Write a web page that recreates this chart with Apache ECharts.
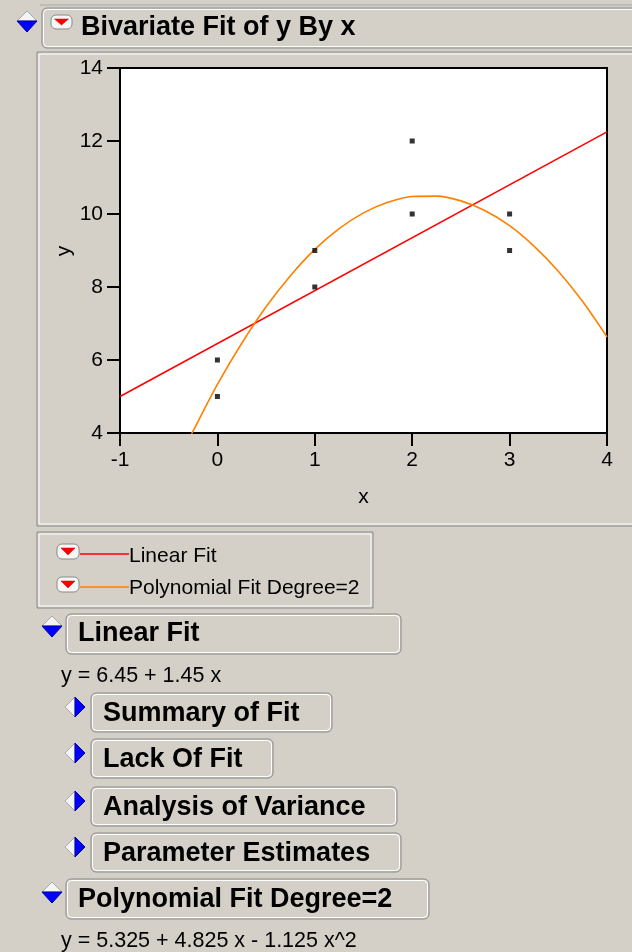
<!DOCTYPE html>
<html>
<head>
<meta charset="utf-8">
<script src="https://cdn.jsdelivr.net/npm/echarts@6/dist/echarts.min.js"></script>
<style>
html,body{margin:0;padding:0;background:#d4d0c8;}
#c{width:632px;height:952px;}
</style>
</head>
<body>
<div id="c"></div>
<script>
// ---- data ----
const xTicks = [-1, 0, 1, 2, 3, 4];
const yTicks = [4, 6, 8, 10, 12, 14];
const obsX = [0, 0, 1, 1, 2, 2, 3, 3];
const obsY = [5, 6, 8, 9, 10, 12, 9, 10];
const linFitX = [-1, 4];
const linFitY = [5.0, 12.25];
const polyFitX = [-0.3, -0.25, 0, 0.25, 0.5, 0.75, 1, 1.25, 1.5, 1.75, 2, 2.25, 2.5, 2.75, 3, 3.25, 3.5, 3.75, 4];
const polyFitY = [3.78, 4.05, 5.33, 6.46, 7.46, 8.31, 9.03, 9.60, 10.03, 10.32, 10.48, 10.49, 10.36, 10.09, 9.68, 9.12, 8.43, 7.60, 6.63];
const titleText = 'Bivariate Fit of y By x';
const xName = 'x';
const yName = 'y';
const legendLabels = ['Linear Fit', 'Polynomial Fit Degree=2'];
const linEquation = 'y = 6.45 + 1.45 x';
const polyEquation = 'y = 5.325 + 4.825 x - 1.125 x^2';
const subReports = ['Summary of Fit', 'Lack Of Fit', 'Analysis of Variance', 'Parameter Estimates'];

// ---- build ----
const BG = '#d4d0c8';
const FONT = '"Liberation Sans", Arial, sans-serif';
const chart = echarts.init(document.getElementById('c'), null, {renderer: 'canvas'});

function button(x, y, w, h) {
  return [
    {type: 'rect', shape: {x: x, y: y, width: w, height: h, r: 5}, style: {fill: BG, stroke: '#8a8a8a', lineWidth: 1}},
    {type: 'rect', shape: {x: x + 1.5, y: y + 1.5, width: w - 3, height: h - 3, r: 4}, style: {fill: 'none', stroke: '#ffffff', lineWidth: 1}}
  ];
}
function diamondDown(cx, cy) {
  return [
    {type: 'polygon', shape: {points: [[cx - 10, cy], [cx, cy - 10], [cx + 10, cy]]}, style: {fill: '#f4f4f4', stroke: '#a8a8a8', lineWidth: 1}},
    {type: 'polygon', shape: {points: [[cx - 10, cy], [cx + 10, cy], [cx, cy + 11]]}, style: {fill: '#0000ff', stroke: '#0000a0', lineWidth: 1}}
  ];
}
function diamondRight(cx, cy) {
  return [
    {type: 'polygon', shape: {points: [[cx, cy - 10], [cx - 10, cy], [cx, cy + 10]]}, style: {fill: '#f4f4f4', stroke: '#a8a8a8', lineWidth: 1}},
    {type: 'polygon', shape: {points: [[cx, cy - 10], [cx, cy + 10], [cx + 10, cy]]}, style: {fill: '#0000ff', stroke: '#0000a0', lineWidth: 1}}
  ];
}
function menuIcon(x, y, w, h) {
  const cx = x + w / 2;
  return [
    {type: 'rect', shape: {x: x, y: y, width: w, height: h, r: 5}, style: {fill: '#f6f6f6', stroke: '#8a8a8a', lineWidth: 1}},
    {type: 'polygon', shape: {points: [[cx - 7, y + 4], [cx + 7, y + 4], [cx, y + h - 4]]}, style: {fill: '#ff0000', stroke: '#c00000', lineWidth: 0.5}}
  ];
}
function txt(s, x, baseline, size, bold) {
  return {type: 'text', x: x, y: baseline - size * 0.36, z: 10,
    style: {text: s, font: (bold ? 'bold ' : '') + size + 'px ' + FONT, fill: '#000', align: 'left', verticalAlign: 'middle'}};
}

let g = [];
g.push({type: 'line', shape: {x1: 40, y1: 5, x2: 632, y2: 5}, style: {stroke: '#a8a8a8', lineWidth: 1}});
// title
g = g.concat(diamondDown(27, 21));
g = g.concat(button(42, 8, 600, 40));
g = g.concat(menuIcon(51, 15, 21, 14));
g.push(txt(titleText, 81, 37, 27, true));
// plot panel
g.push({type: 'rect', z: -10, shape: {x: 37, y: 52, width: 610, height: 474}, style: {fill: BG, stroke: '#8a8a8a', lineWidth: 1}});
g.push({type: 'rect', z: -10, shape: {x: 39, y: 54, width: 606, height: 470}, style: {fill: 'none', stroke: '#ffffff', lineWidth: 1}});
// y axis name (rotated)
g.push({type: 'text', x: 64, y: 251, rotation: Math.PI / 2, z: 10,
  style: {text: yName, font: '21px ' + FONT, fill: '#000', align: 'center', verticalAlign: 'middle'}});
// legend box
g.push({type: 'rect', shape: {x: 37, y: 532, width: 336, height: 76}, style: {fill: BG, stroke: '#8a8a8a', lineWidth: 1}});
g.push({type: 'rect', shape: {x: 39, y: 534, width: 332, height: 72}, style: {fill: 'none', stroke: '#ffffff', lineWidth: 1}});
g = g.concat(menuIcon(57, 544, 22, 15));
g.push({type: 'line', shape: {x1: 80, y1: 554, x2: 129, y2: 554}, style: {stroke: '#ff0000', lineWidth: 1.5}});
g.push(txt(legendLabels[0], 129, 564, 21, false));
g = g.concat(menuIcon(57, 577, 22, 15));
g.push({type: 'line', shape: {x1: 80, y1: 587, x2: 129, y2: 587}, style: {stroke: '#ff8000', lineWidth: 1.5}});
g.push(txt(legendLabels[1], 129, 596, 21, false));
// Linear Fit report
g = g.concat(diamondDown(52, 626));
g = g.concat(button(66, 614, 335, 40));
g.push(txt(legendLabels[0], 78, 643, 27, true));
g.push(txt(linEquation, 61, 684, 21.5, false));
const subY = [693, 739, 787, 833];
const subW = [241, 182, 306, 310];
for (let i = 0; i < subReports.length; i++) {
  g = g.concat(diamondRight(75, subY[i] + 14));
  g = g.concat(button(91, subY[i], subW[i], 39));
  g.push(txt(subReports[i], 103, subY[i] + 30, 27, true));
}
// Polynomial report
g = g.concat(diamondDown(52, 892));
g = g.concat(button(66, 879, 363, 40));
g.push(txt(legendLabels[1], 78, 909, 27, true));
g.push(txt(polyEquation, 61, 949, 21.5, false));

const axisCommon = {
  axisLine: {show: true, onZero: false, lineStyle: {color: '#000', width: 2}},
  axisTick: {show: true, inside: false, length: 13, lineStyle: {color: '#000', width: 2}},
  splitLine: {show: false},
  axisLabel: {color: '#000', fontSize: 21, fontFamily: FONT, margin: 17},
  nameTextStyle: {color: '#000', fontSize: 21, fontFamily: FONT}
};

chart.setOption({
  animation: false,
  backgroundColor: BG,
  graphic: g,
  grid: {left: 120, right: 25, top: 68, bottom: 519, show: true, backgroundColor: '#ffffff', borderColor: '#000', borderWidth: 2},
  xAxis: Object.assign({}, axisCommon, {
    type: 'value', min: xTicks[0], max: xTicks[xTicks.length - 1], interval: 1,
    name: xName, nameLocation: 'middle', nameGap: 54
  }),
  yAxis: Object.assign({}, axisCommon, {
    type: 'value', min: yTicks[0], max: yTicks[yTicks.length - 1], interval: 2
  }),
  series: [
    {type: 'line', name: legendLabels[0], data: linFitX.map((x, i) => [x, linFitY[i]]), showSymbol: false, clip: true,
      lineStyle: {color: '#ff0000', width: 1.6}, itemStyle: {color: '#ff0000'}, z: 3},
    {type: 'line', name: legendLabels[1], data: polyFitX.map((x, i) => [x, polyFitY[i]]), showSymbol: false, clip: true, smooth: 0.3,
      lineStyle: {color: '#ff8000', width: 1.6}, itemStyle: {color: '#ff8000'}, z: 3},
    {type: 'scatter', data: obsX.map((x, i) => [x, obsY[i]]), symbol: 'rect', symbolSize: 5,
      itemStyle: {color: '#000'}, z: 5}
  ]
});
</script>
</body>
</html>
